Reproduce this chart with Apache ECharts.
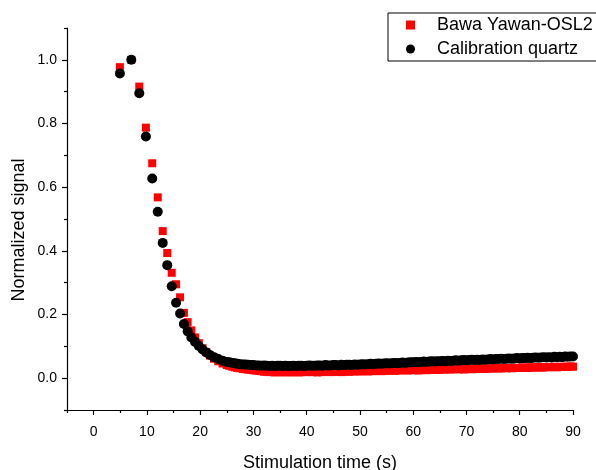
<!DOCTYPE html>
<html>
<head>
<meta charset="utf-8">
<script src="https://cdn.jsdelivr.net/npm/echarts@6/dist/echarts.min.js"></script>
<style>html,body{margin:0;padding:0;background:#fff;}#c{width:596px;height:470px;}</style>
</head>
<body>
<div id="c"></div>
<script>
// ---- data ----
var seriesNames = ['Bawa Yawan-OSL2', 'Calibration quartz'];
var decayTimes = [4.93, 7.07, 8.57, 9.81, 11.0, 12.04, 12.97, 13.82, 14.66, 15.48, 16.23, 16.95,
  17.65, 18.35, 19.05, 19.75, 20.45, 21.15, 21.85, 22.6, 23.4, 24.2, 25.0];
var tailTimes = [25.5, 26, 26.5, 27, 27.5, 28, 28.5, 29, 29.5, 30,
  30.5, 31, 31.5, 32, 32.5, 33, 33.5, 34, 34.5, 35,
  35.5, 36, 36.5, 37, 37.5, 38, 38.5, 39, 39.5, 40,
  40.5, 41, 41.5, 42, 42.5, 43, 43.5, 44, 44.5, 45,
  45.5, 46, 46.5, 47, 47.5, 48, 48.5, 49, 49.5, 50,
  50.5, 51, 51.5, 52, 52.5, 53, 53.5, 54, 54.5, 55,
  55.5, 56, 56.5, 57, 57.5, 58, 58.5, 59, 59.5, 60,
  60.5, 61, 61.5, 62, 62.5, 63, 63.5, 64, 64.5, 65,
  65.5, 66, 66.5, 67, 67.5, 68, 68.5, 69, 69.5, 70,
  70.5, 71, 71.5, 72, 72.5, 73, 73.5, 74, 74.5, 75,
  75.5, 76, 76.5, 77, 77.5, 78, 78.5, 79, 79.5, 80,
  80.5, 81, 81.5, 82, 82.5, 83, 83.5, 84, 84.5, 85,
  85.5, 86, 86.5, 87, 87.5, 88, 88.5, 89, 89.5, 90];
var bawaValues = [0.977, 1.0, 0.916, 0.787, 0.675, 0.568, 0.462, 0.393, 0.331, 0.295, 0.254, 0.205,
  0.176, 0.150, 0.128, 0.110, 0.094, 0.082, 0.071, 0.061, 0.053, 0.046, 0.041,
  0.039, 0.036, 0.034, 0.032, 0.031, 0.029, 0.028, 0.027, 0.026, 0.025,
  0.024, 0.023, 0.022, 0.020, 0.021, 0.019, 0.020, 0.018, 0.019, 0.020,
  0.018, 0.019, 0.020, 0.018, 0.019, 0.020, 0.018, 0.019, 0.021, 0.019,
  0.020, 0.019, 0.021, 0.018, 0.020, 0.019, 0.021, 0.020, 0.019, 0.021,
  0.020, 0.021, 0.019, 0.022, 0.021, 0.020, 0.022, 0.021, 0.023, 0.021,
  0.022, 0.023, 0.021, 0.023, 0.022, 0.024, 0.023, 0.022, 0.024, 0.023,
  0.024, 0.025, 0.023, 0.025, 0.024, 0.026, 0.025, 0.024, 0.026, 0.025,
  0.026, 0.024, 0.026, 0.027, 0.025, 0.027, 0.026, 0.028, 0.026, 0.027,
  0.028, 0.027, 0.029, 0.027, 0.028, 0.029, 0.028, 0.030, 0.027, 0.029,
  0.030, 0.028, 0.030, 0.029, 0.031, 0.030, 0.029, 0.031, 0.030, 0.031,
  0.032, 0.030, 0.031, 0.032, 0.031, 0.033, 0.031, 0.032, 0.033, 0.032,
  0.033, 0.034, 0.032, 0.034, 0.033, 0.034, 0.035, 0.033, 0.034, 0.035,
  0.034, 0.035, 0.036, 0.034, 0.035, 0.036, 0.035, 0.036, 0.037, 0.036];
var quartzValues = [0.957, 1.0, 0.895, 0.759, 0.627, 0.523, 0.425, 0.355, 0.289, 0.237, 0.203, 0.170,
  0.147, 0.128, 0.114, 0.101, 0.090, 0.081, 0.073, 0.066, 0.060, 0.055, 0.051,
  0.050, 0.048, 0.047, 0.045, 0.044, 0.043, 0.043, 0.042, 0.041, 0.041,
  0.040, 0.040, 0.039, 0.040, 0.039, 0.038, 0.039, 0.038, 0.039, 0.039,
  0.038, 0.039, 0.038, 0.038, 0.039, 0.038, 0.039, 0.039, 0.038, 0.039,
  0.040, 0.039, 0.039, 0.040, 0.040, 0.039, 0.041, 0.040, 0.040, 0.041,
  0.041, 0.040, 0.042, 0.041, 0.042, 0.042, 0.041, 0.043, 0.042, 0.043,
  0.044, 0.043, 0.044, 0.045, 0.044, 0.045, 0.046, 0.045, 0.046, 0.047,
  0.046, 0.047, 0.048, 0.047, 0.048, 0.049, 0.048, 0.049, 0.050, 0.050,
  0.051, 0.050, 0.051, 0.052, 0.051, 0.052, 0.053, 0.052, 0.053, 0.053,
  0.054, 0.053, 0.055, 0.054, 0.055, 0.056, 0.055, 0.056, 0.057, 0.056,
  0.057, 0.058, 0.057, 0.058, 0.057, 0.059, 0.058, 0.059, 0.060, 0.059,
  0.060, 0.060, 0.061, 0.060, 0.061, 0.062, 0.061, 0.062, 0.063, 0.062,
  0.063, 0.063, 0.064, 0.063, 0.064, 0.065, 0.064, 0.065, 0.066, 0.065,
  0.066, 0.065, 0.067, 0.066, 0.067, 0.066, 0.068, 0.067, 0.068, 0.068];
var times = decayTimes.concat(tailTimes);
var xMajorTicks = [0, 10, 20, 30, 40, 50, 60, 70, 80, 90];
var xMinorTicks = [-5, 5, 15, 25, 35, 45, 55, 65, 75, 85];
var yMajorTicks = [0, 0.2, 0.4, 0.6, 0.8, 1.0];
var yMinorTicks = [-0.1, 0.1, 0.3, 0.5, 0.7, 0.9, 1.1];
var xTitle = 'Stimulation time (s)';
var yTitle = 'Normalized signal';

function pairs(xs, ys) { return xs.map(function (x, i) { return [x, ys[i]]; }); }

var FONT = '"Liberation Sans", Arial, sans-serif';
var chart = echarts.init(document.getElementById('c'), null, { renderer: 'canvas' });

var baseX = { type: 'value', min: -5, max: 90, splitLine: { show: false }, position: 'bottom', offset: 0 };
var baseY = { type: 'value', min: -0.1, max: 1.1, splitLine: { show: false }, position: 'left', offset: 0 };
var tickLine = { color: '#000', width: 1.2 };

chart.setOption({
  animation: false,
  backgroundColor: '#fff',
  grid: { left: 67, right: 23, top: 28, bottom: 60, containLabel: false, outerBoundsMode: 'none' },
  legend: {
    left: 388, top: 13, orient: 'vertical',
    borderColor: '#000', borderWidth: 1, borderRadius: 0,
    padding: [3, 40, 3, 18],
    itemWidth: 9, itemHeight: 9, itemGap: 6,
    textStyle: { fontFamily: FONT, fontSize: 18, color: '#000', lineHeight: 16, padding: [0, 0, 0, 17] },
    data: [
      { name: seriesNames[0], icon: 'rect' },
      { name: seriesNames[1], icon: 'circle' }
    ]
  },
  graphic: [{
    type: 'text', x: 19, y: 230, rotation: Math.PI / 2,
    style: { text: yTitle, fontFamily: FONT, fontSize: 18, fill: '#000', align: 'center', verticalAlign: 'middle' }
  }],
  xAxis: [
    Object.assign({}, baseX, {
      name: xTitle, nameLocation: 'middle', nameGap: 44,
      nameTextStyle: { fontFamily: FONT, fontSize: 18, color: '#000' },
      axisLine: { show: true, onZero: false, lineStyle: tickLine },
      axisTick: { show: true, length: 5, customValues: xMajorTicks, lineStyle: tickLine },
      axisLabel: { customValues: xMajorTicks, fontFamily: FONT, fontSize: 14, color: '#000', margin: 15 }
    }),
    Object.assign({}, baseX, {
      axisLine: { show: false, onZero: false },
      axisTick: { show: true, length: 3, customValues: xMinorTicks, lineStyle: tickLine },
      axisLabel: { show: false }
    })
  ],
  yAxis: [
    Object.assign({}, baseY, {
      axisLine: { show: true, onZero: false, lineStyle: tickLine },
      axisTick: { show: true, length: 5, customValues: yMajorTicks, lineStyle: tickLine },
      axisLabel: { customValues: yMajorTicks, fontFamily: FONT, fontSize: 14, color: '#000', margin: 10,
        formatter: function (v) { return v.toFixed(1); } }
    }),
    Object.assign({}, baseY, {
      axisLine: { show: false, onZero: false },
      axisTick: { show: true, length: 3, customValues: yMinorTicks, lineStyle: tickLine },
      axisLabel: { show: false }
    })
  ],
  series: [
    { name: seriesNames[0], type: 'scatter', symbol: 'rect', symbolSize: 8,
      itemStyle: { color: '#ff0000', opacity: 1 }, data: pairs(times, bawaValues), xAxisIndex: 0, yAxisIndex: 0 },
    { name: seriesNames[1], type: 'scatter', symbol: 'circle', symbolSize: 10,
      itemStyle: { color: '#000000', opacity: 1 }, data: pairs(times, quartzValues), xAxisIndex: 0, yAxisIndex: 0 }
  ]
});
</script>
</body>
</html>
